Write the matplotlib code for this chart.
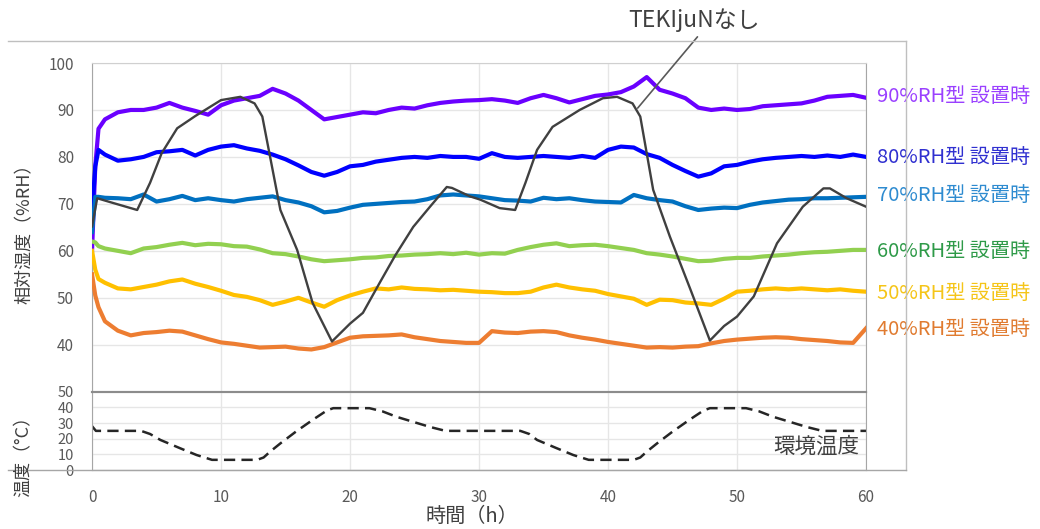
import numpy as np
import matplotlib
matplotlib.use('Agg')
import matplotlib.pyplot as plt
from matplotlib.lines import Line2D
from matplotlib.transforms import blended_transform_factory

plt.rcParams['font.family'] = ['Noto Sans CJK JP', 'DejaVu Sans']

# time axis shared by the colored humidity series (h)
hours = [0, 0.25, 0.5] + list(range(1, 61))

rh90 = [60, 78, 86, 88, 89.5, 90, 90, 90.5, 91.5, 90.5, 89.8, 89, 91, 92, 92.5, 93,
        94.5, 93.5, 92, 90, 88, 88.5, 89, 89.5, 89.3, 90, 90.5, 90.3, 91, 91.5, 91.8,
        92, 92.1, 92.3, 92, 91.5, 92.5, 93.2, 92.5, 91.6, 92.3, 93, 93.3, 93.8, 95, 97,
        94.3, 93.5, 92.5, 90.5, 90, 90.3, 90, 90.2, 90.8, 91, 91.2, 91.4, 92, 92.8, 93,
        93.2, 92.6]
rh80 = [68, 78, 81.5, 80.5, 79.2, 79.5, 80, 81, 81.2, 81.5, 80.3, 81.5, 82.2, 82.5, 81.8,
        81.3, 80.5, 79.5, 78.2, 76.8, 76, 76.8, 78, 78.3, 79, 79.4, 79.8, 80, 79.8, 80.2,
        80, 80, 79.6, 80.8, 80, 79.8, 80, 80.2, 80, 79.8, 80.2, 79.8, 81.5, 82.2, 82, 80.6,
        79.8, 78.3, 77, 75.8, 76.5, 78, 78.3, 79, 79.5, 79.8, 80, 80.2, 80, 80.3, 80,
        80.5, 80]
rh70 = [64, 71.5, 71.5, 71.3, 71.2, 71, 72, 70.5, 71, 71.7, 70.8, 71.2, 70.8, 70.5, 71,
        71.3, 71.6, 70.8, 70.3, 69.5, 68.2, 68.5, 69.2, 69.8, 70, 70.2, 70.4, 70.5, 71,
        71.8, 72, 71.8, 71.6, 71.2, 70.8, 70.7, 70.5, 71.3, 71, 71.2, 70.8, 70.5, 70.4,
        70.3, 71.9, 71.2, 70.8, 70.5, 69.5, 68.7, 69, 69.2, 69.1, 69.8, 70.3, 70.6, 70.9,
        71, 71.2, 71.2, 71.3, 71.4, 71.5]
rh60 = [62, 61.8, 61, 60.5, 60, 59.5, 60.5, 60.8, 61.3, 61.7, 61.2, 61.5, 61.4, 61, 60.9,
        60.3, 59.5, 59.3, 58.8, 58.2, 57.8, 58, 58.2, 58.5, 58.6, 58.9, 59, 59.2, 59.3,
        59.5, 59.3, 59.6, 59.2, 59.5, 59.4, 60.2, 60.8, 61.3, 61.6, 61, 61.2, 61.3, 61,
        60.6, 60.2, 59.5, 59.2, 58.8, 58.3, 57.8, 57.9, 58.3, 58.5, 58.5, 58.8, 59, 59.2,
        59.5, 59.7, 59.8, 60, 60.2, 60.2]
rh50 = [60, 56, 54, 53.2, 52, 51.8, 52.3, 52.8, 53.5, 53.9, 53, 52.3, 51.5, 50.6, 50.2,
        49.5, 48.5, 49.2, 50, 49, 48.1, 49.5, 50.5, 51.3, 52, 51.8, 52.2, 51.9, 51.8, 51.6,
        51.7, 51.5, 51.3, 51.2, 51, 51, 51.3, 52.2, 52.8, 52.2, 51.8, 51.5, 50.8, 50.3,
        49.8, 48.5, 49.6, 49.5, 49, 48.8, 48.5, 49.8, 51.3, 51.5, 51.8, 52, 51.8, 52, 51.8,
        51.6, 51.8, 51.5, 51.3]
rh40 = [55, 50.5, 48, 45, 43, 42, 42.5, 42.7, 43, 42.8, 42, 41.2, 40.5, 40.2, 39.8, 39.4,
        39.5, 39.6, 39.2, 39, 39.5, 40.5, 41.5, 41.8, 41.9, 42, 42.2, 41.6, 41.2, 40.8,
        40.6, 40.4, 40.4, 42.9, 42.6, 42.5, 42.8, 42.9, 42.7, 42, 41.5, 41.1, 40.6, 40.2,
        39.8, 39.4, 39.5, 39.4, 39.6, 39.7, 40.3, 40.8, 41.1, 41.3, 41.5, 41.6, 41.5, 41.2,
        41, 40.8, 40.5, 40.4, 43.5]

# no humidity control
none_t = [0, 0.4, 1.5, 3.5, 4.5, 5.4, 6.6, 8, 10, 11.5, 12.6, 13.2, 14.6, 15.9, 17.1,
          18.6, 20, 21, 22.3, 23.5, 24.9, 26.2, 27.5, 27.9, 29.3, 30.1, 31.6, 32.8, 33.6,
          34.5, 35.7, 37.8, 39.6, 40.7, 41.9, 42.5, 43.5, 44.8, 46.4, 47.9, 49, 50, 51.3,
          53.1, 55.1, 56.7, 57.2, 58.5, 60]
none_rh = [65.2, 71.2, 70.3, 68.7, 74.5, 80.8, 86.1, 88.7, 92.1, 92.8, 91.4, 88.6, 68.7,
           60.2, 48.9, 40.7, 44.5, 46.8, 53.2, 59, 65.1, 69.4, 73.6, 73.4, 71.6, 70.9,
           69.1, 68.7, 74.5, 81.5, 86.4, 90, 92.5, 92.8, 91.4, 88.6, 73, 63, 51.7, 40.9,
           44, 46, 50.3, 61.6, 69.4, 73.3, 73.3, 71.2, 69.4]

# ambient temperature
temp_t = [0, 0.3, 3.8, 4.5, 5.3, 6.8, 8.1, 9.3, 12.8, 13.3, 13.8, 14.6, 15.8, 17.1, 18.2,
          18.7, 21.5, 22.5, 23.6, 25, 26.2, 27.4, 33.2, 33.9, 34.5, 36, 37.3, 38.5, 42,
          42.5, 43, 43.8, 45, 46.3, 47.4, 47.9, 50.7, 51.7, 52.8, 54.2, 55.4, 56.6, 60]
temp_c = [28, 25, 25, 23, 19.2, 14, 9.6, 6.5, 6.5, 8, 11.7, 17, 24.5, 32, 38, 39.5, 39.5,
          37.5, 34, 30.5, 27.5, 25, 25, 23, 19.2, 14, 9.6, 6.5, 6.5, 8, 11.7, 17, 24.5, 32,
          38, 39.5, 39.5, 37.5, 34, 30.5, 27.5, 25, 25]

series = [(rh90, '#6a00ff', '#9a40ff', '90%RH型 設置時', 92.8),
          (rh80, '#0000ff', '#3030d0', '80%RH型 設置時', 79.8),
          (rh70, '#0070c0', '#2e8bd0', '70%RH型 設置時', 71.7),
          (rh60, '#92d050', '#2e9a48', '60%RH型 設置時', 59.8),
          (rh50, '#ffc000', '#f5c518', '50%RH型 設置時', 50.9),
          (rh40, '#ed7d31', '#e07b30', '40%RH型 設置時', 43.2)]

fig = plt.figure(figsize=(10.4, 5.29), dpi=100)
ax = fig.add_axes([0.0885, 0.2595, 0.7442, 0.6214])
ax2 = fig.add_axes([0.0885, 0.1115, 0.7442, 0.148])

tick_col = '#595959'
grid_col = '#e6e6e6'

for vals, col, tcol, name, ypos in series:
    ax.plot(hours, vals, color=col, lw=3, zorder=3)
ax.plot(none_t, none_rh, color='#404040', lw=1.7, zorder=4)

tr = blended_transform_factory(ax.transAxes, ax.transData)
for vals, col, tcol, name, ypos in series:
    ax.text(1.014, ypos, name, transform=tr, color=tcol, fontsize=14.5,
            ha='left', va='center', clip_on=False)

ax.set_xlim(0, 60)
ax.set_ylim(30, 100)
ax.set_xticks(range(0, 61, 10))
ax.set_xticklabels([])
ax.set_yticks(range(40, 101, 10))
ax.tick_params(axis='both', length=0, colors=tick_col, labelsize=11)
ax.tick_params(axis='y', pad=13)
ax.grid(True, color=grid_col, lw=1)
ax.set_axisbelow(True)
for s in ['left', 'right']:
    ax.spines[s].set_color('#a6a6a6')
ax.spines['top'].set_color('#d0d0d0')
ax.spines['bottom'].set_color('#8c8c8c')
ax.spines['bottom'].set_linewidth(1.5)

ax.annotate('TEKIjuNなし', xy=(42.3, 90.4), xycoords='data',
            xytext=(0.667, 0.962), textcoords='figure fraction',
            ha='center', va='center', fontsize=16.5, color='#404040',
            arrowprops=dict(arrowstyle='-', color='#595959', lw=1.2,
                            relpos=(0.56, 0), shrinkA=2, shrinkB=0))

ax2.plot(temp_t, temp_c, color='#262626', lw=1.8, ls=(0, (4.5, 2.5)))
ax2.set_xlim(0, 60)
ax2.set_ylim(0, 50)
ax2.set_xticks(range(0, 61, 10))
ax2.set_yticks(range(0, 51, 10))
ax2.tick_params(axis='both', length=0, colors=tick_col, labelsize=11)
ax2.tick_params(axis='x', pad=14)
ax2.tick_params(axis='y', pad=13, labelsize=10.5)
ax2.grid(True, color=grid_col, lw=1)
ax2.set_axisbelow(True)
for s in ['left', 'right', 'bottom']:
    ax2.spines[s].set_color('#a6a6a6')
ax2.spines['top'].set_color('#8c8c8c')
ax2.spines['top'].set_linewidth(1.5)
ax2.text(59.5, 14.7, '環境温度', ha='right', va='center', fontsize=15.5, color='#404040')

fig.text(0.024, 0.567, '相対湿度（%RH）', rotation=90, ha='center', va='center',
         fontsize=13, color='#404040')
fig.text(0.023, 0.1456, '温度（°C）', rotation=90, ha='center', va='center',
         fontsize=13, color='#404040')
fig.text(0.454, 0.023, '時間（h）', ha='center', va='center', fontsize=14.5, color='#404040')

# outer chart frame
frame_col = '#bfbfbf'
fig.add_artist(Line2D([0.0077, 0.871], [0.9225, 0.9225], color=frame_col, lw=1))
fig.add_artist(Line2D([0.871, 0.871], [0.9225, 0.1115], color=frame_col, lw=1))
fig.add_artist(Line2D([0.0077, 0.871], [0.1115, 0.1115], color='#a6a6a6', lw=1))

plt.savefig('out.png', dpi=100)
